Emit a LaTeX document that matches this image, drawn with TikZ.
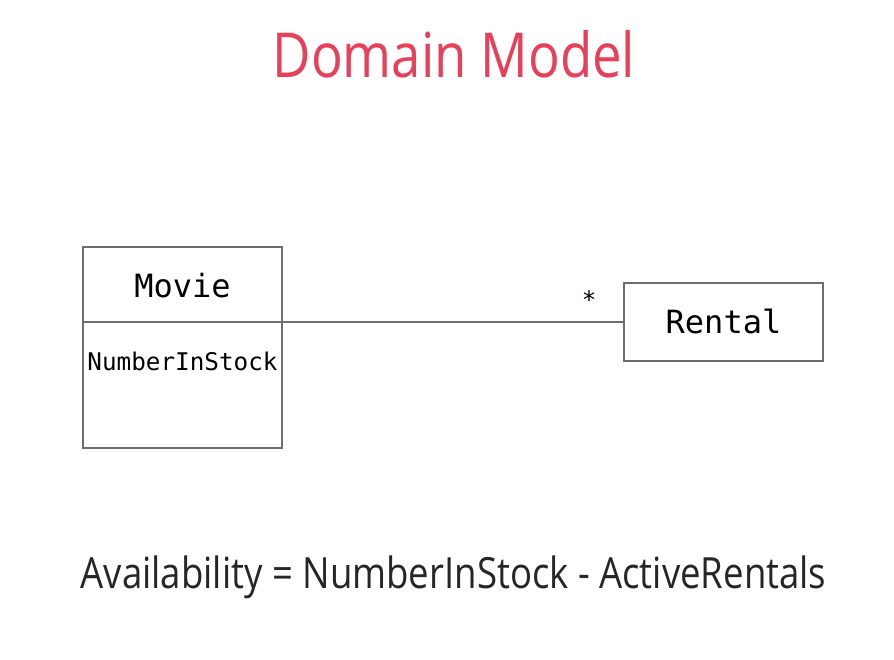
\documentclass[tikz,border=0pt]{standalone}
\usepackage{fontspec}
\setmainfont{Open Sans}
\newfontfamily\narrowsans[FakeStretch=0.85]{Open Sans}
\newfontfamily\monofont{DejaVu Sans Mono}
\definecolor{titlered}{HTML}{E8405A}
\definecolor{boxgray}{HTML}{6E6E6E}
\begin{document}
\begin{tikzpicture}[x=1pt,y=-1pt,
  umlbox/.style={draw=boxgray, line width=1.6pt},
  mono/.style={font=\monofont, text=black, inner sep=0pt}]
\useasboundingbox[fill=white] (0,0) rectangle (894,660);
\node[text=titlered, font=\narrowsans\fontsize{62}{66}\selectfont, anchor=base, inner sep=0pt] (title) at (454,78) {Domain Model};
% Movie class
\draw[umlbox] (83,247) rectangle (282,448);
\coordinate (mL) at (83,322);
\coordinate (mR) at (282,322);
\draw[umlbox] (mL) -- (mR);
\node[mono, font=\monofont\fontsize{32}{34}\selectfont, anchor=base] (movie) at (182.5,298) {Movie};
\node[mono, font=\monofont\fontsize{24.3}{26}\selectfont, anchor=base] (nis) at (182.5,370) {NumberInStock};
% Rental class
\node[umlbox, minimum width=199pt, minimum height=78pt, inner sep=0pt] (rental) at (723.5,322) {};
\node[mono, font=\monofont\fontsize{32}{34}\selectfont, anchor=base] (rtext) at (723.5,334) {Rental};
% association
\draw[draw=boxgray, line width=1.4pt] (mR) -- (rental.west);
\node[mono, font=\monofont\fontsize{24}{26}\selectfont] (star) at (589,300) {*};
% formula
\node[font=\narrowsans\fontsize{43}{46}\selectfont, text=black!85, anchor=base, inner sep=0pt] (formula) at (453.5,588) {Availability = NumberInStock - ActiveRentals};
\end{tikzpicture}
\end{document}
